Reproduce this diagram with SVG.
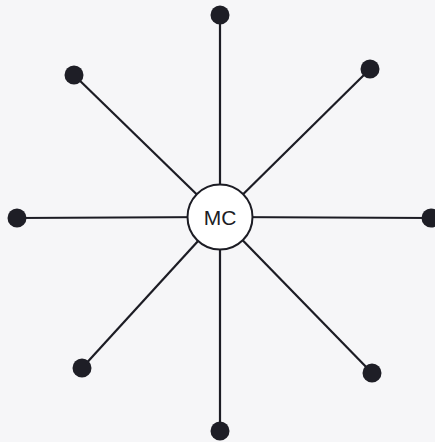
<svg xmlns="http://www.w3.org/2000/svg" width="435" height="442" viewBox="0 0 435 442">
<style>
.bg{fill:#f6f6f8}
.ln{stroke:#1c1c24;stroke-width:2.2;fill:none}
.dot{fill:#1e1e26}
.hub{fill:#ffffff;stroke:#1c1c24;stroke-width:2}
.lbl{font-family:"Liberation Sans",Arial,sans-serif;font-size:21px;fill:#1c1c24;text-anchor:middle;dominant-baseline:central}
</style>
<rect class="bg" x="0" y="0" width="435" height="442"/>
<g id="connectors">
<line class="ln" x1="220" y1="217" x2="220" y2="15"/>
<line class="ln" x1="220" y1="217" x2="74" y2="75"/>
<line class="ln" x1="220" y1="217" x2="370" y2="69"/>
<line class="ln" x1="220" y1="217" x2="17" y2="218"/>
<line class="ln" x1="220" y1="217" x2="431" y2="218"/>
<line class="ln" x1="220" y1="217" x2="82" y2="368"/>
<line class="ln" x1="220" y1="217" x2="372" y2="373"/>
<line class="ln" x1="220" y1="217" x2="220" y2="431"/>
</g>
<g id="hub">
<circle class="hub" cx="220" cy="217" r="32.5"/>
<text class="lbl" x="220" y="217">MC</text>
</g>
<g id="n-top"><circle class="dot" cx="220" cy="15" r="9.5"/></g>
<g id="n-topleft"><circle class="dot" cx="74" cy="75" r="9.5"/></g>
<g id="n-topright"><circle class="dot" cx="370" cy="69" r="9.5"/></g>
<g id="n-left"><circle class="dot" cx="17" cy="218" r="9.5"/></g>
<g id="n-right"><circle class="dot" cx="431" cy="218" r="9.5"/></g>
<g id="n-bottomleft"><circle class="dot" cx="82" cy="368" r="9.5"/></g>
<g id="n-bottomright"><circle class="dot" cx="372" cy="373" r="9.5"/></g>
<g id="n-bottom"><circle class="dot" cx="220" cy="431" r="9.5"/></g>
</svg>
